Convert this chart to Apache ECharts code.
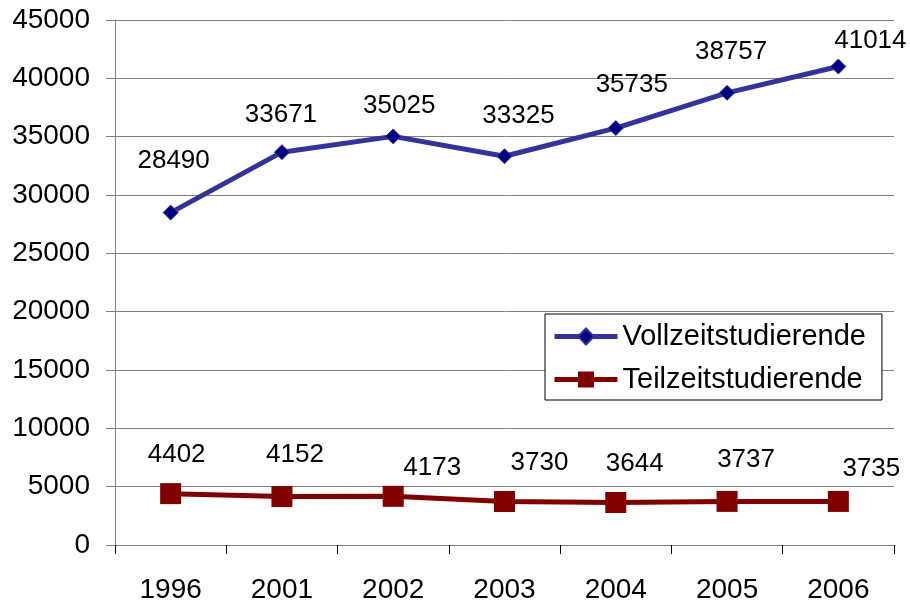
<!DOCTYPE html>
<html>
<head>
<meta charset="utf-8">
<script src="https://cdn.jsdelivr.net/npm/echarts@6/dist/echarts.min.js"></script>
<style>html,body{margin:0;padding:0;background:#fff;}#c{width:910px;height:604px;}</style>
</head>
<body>
<div id="c"></div>
<script>
const categories = ['1996', '2001', '2002', '2003', '2004', '2005', '2006'];
const vollzeit = [28490, 33671, 35025, 33325, 35735, 38757, 41014];
const teilzeit = [4402, 4152, 4173, 3730, 3644, 3737, 3735];
const seriesNames = ['Vollzeitstudierende', 'Teilzeitstudierende'];

// label placement (style only)
const vollShift = [[3,-52],[-1,-37],[6,-31],[14,-40],[16,-43],[4,-41],[32,-26]];
const teilShift = [[6,-39],[13,-42],[39,-28],[35,-39],[19,-39],[19,-42],[33,-33]];

const FONT = '"Liberation Sans", Arial, sans-serif';

function withLabels(values, shifts) {
  return values.map((v, i) => ({
    value: v,
    label: { offset: shifts[i] }
  }));
}

const chart = echarts.init(document.getElementById('c'), null, { renderer: 'canvas' });
chart.setOption({
  animation: false,
  backgroundColor: '#ffffff',
  textStyle: { fontFamily: FONT },
  grid: { left: 115, right: 16, top: 20, bottom: 55, containLabel: false },
  xAxis: {
    type: 'category',
    data: categories,
    boundaryGap: true,
    axisLine: { lineStyle: { color: '#808080', width: 1 } },
    axisTick: { show: true, length: 9, inside: false, alignWithLabel: false, lineStyle: { color: '#000000' } },
    axisLabel: { color: '#000', fontSize: 28, fontFamily: FONT, margin: 31 },
    splitLine: { show: false }
  },
  yAxis: {
    type: 'value',
    min: 0,
    max: 45000,
    interval: 5000,
    axisLine: { show: true, lineStyle: { color: '#808080', width: 1 } },
    axisTick: { show: true, length: 9, lineStyle: { color: '#808080' } },
    axisLabel: { color: '#000', fontSize: 28, fontFamily: FONT, margin: 25, formatter: (v) => String(v) },
    splitLine: { show: true, lineStyle: { color: '#808080', width: 1 } }
  },
  legend: {
    orient: 'vertical',
    left: 545,
    top: 314,
    data: seriesNames,
    itemWidth: 63,
    itemHeight: 20,
    itemGap: 14,
    padding: [8, 16, 6, 7],
    borderColor: '#000000',
    borderWidth: 1,
    backgroundColor: '#ffffff',
    lineStyle: { width: 5 },
    textStyle: { color: '#000', fontSize: 29, fontFamily: FONT, lineHeight: 28 }
  },
  series: [
    {
      name: seriesNames[0],
      type: 'line',
      data: withLabels(vollzeit, vollShift),
      symbol: 'diamond',
      symbolSize: 15,
      lineStyle: { color: '#333399', width: 5 },
      itemStyle: { color: '#000080', borderColor: '#333399', borderWidth: 1 },
      label: { show: true, position: 'inside', color: '#000', fontSize: 26, fontFamily: FONT, formatter: (p) => String(p.value) },
      z: 3
    },
    {
      name: seriesNames[1],
      type: 'line',
      data: withLabels(teilzeit, teilShift),
      symbol: 'rect',
      symbolSize: 21,
      lineStyle: { color: '#800000', width: 5 },
      itemStyle: { color: '#800000', borderColor: '#800000', borderWidth: 0 },
      label: { show: true, position: 'inside', color: '#000', fontSize: 26, fontFamily: FONT, formatter: (p) => String(p.value) },
      z: 3
    }
  ]
});
</script>
</body>
</html>
